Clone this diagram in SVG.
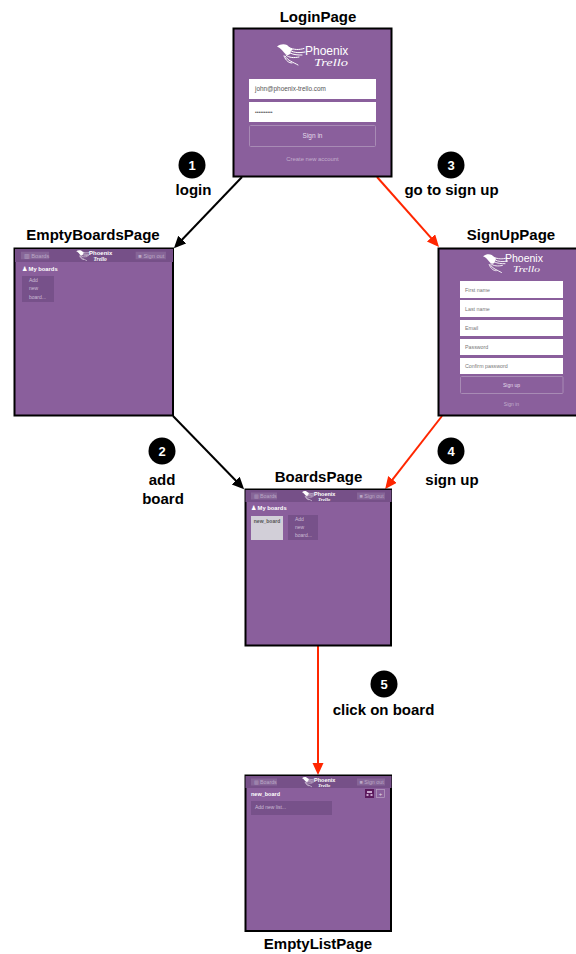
<svg xmlns="http://www.w3.org/2000/svg" width="576" height="954" viewBox="0 0 576 954">
<style>
text{font-family:"Liberation Sans",Arial,sans-serif}
.title{font-size:15px;font-weight:700;fill:#000;text-anchor:middle}
.lab{font-size:15px;font-weight:700;fill:#000;text-anchor:middle}
.num{font-size:13px;font-weight:700;fill:#fff;text-anchor:middle}
.page{fill:#8a5f9c;stroke:#000;stroke-width:2}
.bar{fill:#765088}
.btn{fill:#866597}
.btxt{font-size:5.300px;fill:#bba8c6}
.input{fill:#fff}
.ph{font-size:5.300px;fill:#777}
.c{fill:none;stroke-width:2}
.k{stroke:#000}
.r{stroke:#ff2600}
.dark{fill:#77518a}
.addt{font-size:5px;fill:#cdbdd6}
.h{font-size:5.800px;font-weight:700;fill:#fff}
.ph-t{fill:#fff}
.tr{fill:#fff;font-family:"Liberation Serif",serif;font-style:italic}
</style>
<defs>
<marker id="ak" markerWidth="13" markerHeight="12" refX="9" refY="5.500" orient="auto" markerUnits="userSpaceOnUse"><path d="M0 0L12 5.500L0 11z" fill="#000"/></marker>
<marker id="ar" markerWidth="13" markerHeight="12" refX="9" refY="5.500" orient="auto" markerUnits="userSpaceOnUse"><path d="M0 0L12 5.500L0 11z" fill="#ff2600"/></marker>
<g id="bird">
<path fill="#fff" d="M0 2.500C3 0 7 -0.500 10 1C12 2.500 13 4.500 16 5.500C13 6.500 14 8.500 13 10C11 12 9 11 7 8.500C5 6 3.500 4 0 2.500z"/>
<path fill="none" stroke="#fff" stroke-width="1" stroke-linecap="round" d="M12 3.500C17 6 22 6 27 4.500M13 6.500C18 9 22 9 28 8M13 9C17 11 21 11 25 11M9 11C12 14 17 14 22 13M8 12C11 17 16 18 21 21M7 12C9 17 12 19 15 19"/>
</g>
<g id="minilogo">
<use href="#bird" transform="scale(0.46)"/>
<text x="12" y="4.800" class="ph-t" font-size="5.500" font-weight="700">Phoenix</text>
<text x="16" y="9.800" class="tr" font-size="5" font-weight="700">Trello</text>
</g>
<g id="topbar">
<rect x="0" y="0" width="146" height="12" class="bar"/>
<rect x="5.500" y="2.500" width="26" height="7" class="btn"/>
<text x="8" y="8" class="btxt">▥ Boards</text>
<rect x="111.500" y="2.500" width="28" height="7" class="btn"/>
<text x="114" y="8" class="btxt">■ Sign out</text>
<use href="#minilogo" x="56.500" y="1"/>
</g>
</defs>

<g id="connectors">
<path class="c k" d="M242 177L176 246" marker-end="url(#ak)"/>
<path class="c r" d="M377 177L437 244.700" marker-end="url(#ar)"/>
<path class="c k" d="M173 416L242 487" marker-end="url(#ak)"/>
<path class="c r" d="M442 416L387 486.600" marker-end="url(#ar)"/>
<path class="c r" d="M318 646L318 772" marker-end="url(#ar)"/>
</g>

<g id="step1"><circle cx="192" cy="165" r="13.500"/><text x="192" y="170" class="num">1</text><text x="193.500" y="195" class="lab">login</text></g>
<g id="step2"><circle cx="162" cy="451" r="13.500"/><text x="162" y="456" class="num">2</text><text x="162" y="485" class="lab">add</text><text x="163" y="504" class="lab">board</text></g>
<g id="step3"><circle cx="451" cy="165" r="13.500"/><text x="451" y="170" class="num">3</text><text x="451.500" y="195" class="lab">go to sign up</text></g>
<g id="step4"><circle cx="451" cy="451" r="13.500"/><text x="451" y="456" class="num">4</text><text x="452" y="485" class="lab">sign up</text></g>
<g id="step5"><circle cx="384" cy="684" r="13.500"/><text x="384" y="689" class="num">5</text><text x="383.500" y="715" class="lab">click on board</text></g>

<g id="LoginPage">
<text x="318" y="22" class="title">LoginPage</text>
<rect x="233.500" y="28.500" width="158" height="148" class="page"/>
<use href="#bird" transform="translate(277,44)"/>
<text x="305" y="55" font-size="12" class="ph-t">Phoenix</text>
<text x="314" y="66" font-size="10.500" class="tr" textLength="34" lengthAdjust="spacingAndGlyphs">Trello</text>
<rect x="249" y="79" width="127" height="20" class="input"/>
<text x="255" y="91" font-size="6.400" fill="#555">john@phoenix-trello.com</text>
<rect x="249" y="102" width="127" height="20" class="input"/>
<text x="255" y="114" font-size="5" fill="#555">••••••••••</text>
<rect x="249.500" y="125.500" width="126" height="21" rx="1" fill="none" stroke="#a88bb5"/>
<text x="312.500" y="138" font-size="6.500" fill="#e5dcea" text-anchor="middle">Sign in</text>
<text x="312.500" y="161" font-size="5.900" fill="#c3aecd" text-anchor="middle">Create new account</text>
</g>

<g id="EmptyBoardsPage">
<text x="93" y="240" class="title">EmptyBoardsPage</text>
<rect x="14.500" y="248.500" width="158.500" height="167" class="page"/>
<svg x="15" y="249" width="158" height="13" viewBox="0 0 146 12" preserveAspectRatio="none"><use href="#topbar"/></svg>
<text x="22" y="271" class="h">&#9823; My boards</text>
<rect x="22" y="276" width="32" height="26" class="dark"/>
<text x="29" y="282" class="addt">Add</text>
<text x="29" y="290" class="addt">new</text>
<text x="29" y="299" class="addt">board...</text>
</g>

<g id="SignUpPage">
<text x="511" y="240" class="title">SignUpPage</text>
<rect x="438.500" y="248.500" width="140" height="167" class="page"/>
<use href="#bird" transform="translate(483,254) scale(0.88)"/>
<text x="505" y="262" font-size="10.500" class="ph-t">Phoenix</text>
<text x="513" y="272" font-size="9" class="tr" textLength="27" lengthAdjust="spacingAndGlyphs">Trello</text>
<rect x="460" y="281" width="103" height="17" class="input"/><text x="465" y="292" class="ph">First name</text>
<rect x="460" y="300" width="103" height="17" class="input"/><text x="465" y="311" class="ph">Last name</text>
<rect x="460" y="320" width="103" height="16" class="input"/><text x="465" y="330" class="ph">Email</text>
<rect x="460" y="339" width="103" height="16" class="input"/><text x="465" y="349" class="ph">Password</text>
<rect x="460" y="358" width="103" height="16" class="input"/><text x="465" y="368" class="ph">Confirm password</text>
<rect x="460.500" y="376.500" width="102.500" height="17" rx="1" fill="none" stroke="#a88bb5"/>
<text x="511.500" y="387" font-size="5" fill="#e5dcea" text-anchor="middle">Sign up</text>
<text x="511.500" y="406" font-size="5" fill="#c3aecd" text-anchor="middle">Sign in</text>
</g>

<g id="BoardsPage">
<text x="318.500" y="482" class="title">BoardsPage</text>
<rect x="245.500" y="489.500" width="145.500" height="156" class="page"/>
<use href="#topbar" x="245.500" y="490"/>
<text x="251" y="510" class="h">&#9823; My boards</text>
<rect x="251" y="516" width="32" height="24" fill="#d2cfd8"/>
<text x="267" y="523" font-size="5" font-weight="700" fill="#555" text-anchor="middle">new_board</text>
<rect x="288" y="515" width="30" height="25" class="dark"/>
<text x="295" y="521" class="addt">Add</text>
<text x="295" y="529" class="addt">new</text>
<text x="295" y="537" class="addt">board...</text>
</g>

<g id="EmptyListPage">
<text x="318" y="949" class="title">EmptyListPage</text>
<rect x="245.500" y="775.500" width="145.500" height="155.500" class="page"/>
<use href="#topbar" x="245.500" y="776"/>
<text x="251" y="796" class="h" style="font-size:5.500px">new_board</text>
<rect x="365" y="789" width="9" height="9" fill="#5c1a5e"/>
<path d="M367 791h5v2h-5zM366.500 794h2v2h-2zM370.500 794h2v2h-2z" fill="#c9a8cf"/>
<rect x="376.500" y="789.500" width="8" height="8" fill="none" stroke="#b9a3c3" stroke-width="0.700"/>
<text x="380.500" y="796" font-size="6" fill="#e5dcea" text-anchor="middle">+</text>
<rect x="251" y="801" width="81" height="14" class="dark"/>
<text x="255" y="809" class="addt">Add new list...</text>
</g>
</svg>
